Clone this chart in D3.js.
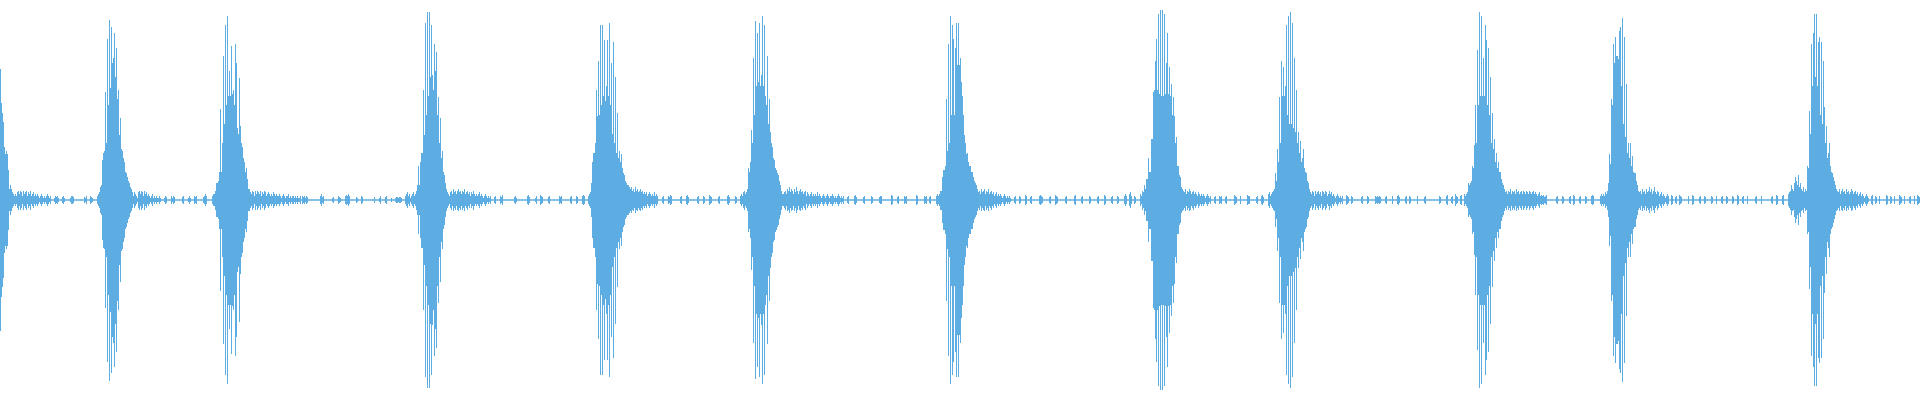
<!DOCTYPE html>
<html>
<head>
<meta charset="utf-8">
<script src="https://cdn.jsdelivr.net/npm/d3@7"></script>
<style>
  html, body { margin: 0; padding: 0; background: #fff; }
  svg { display: block; }
</style>
</head>
<body>
<svg width="1920" height="400"></svg>
<script>
// waveform: one value per time column, amplitude 0..1 (symmetric about 0)
var burstStart = [0, 97, 212, 405, 588, 740, 936, 1140, 1268, 1464, 1600, 1788];

var burstAmp = [
  [.69,.51,.46,.41,.28,.24,.26,.24,.16,.06,.08,.06,.04,.03,
   .02,.03,.02,.04,.05,.03,.05,.04,.02,.05,.03,.04,.05,.02,.04,.03,.05,.02,.03,.04,.02,.03,.02,.03,.02,.01,.02,.03,.02,.01,.02,.01,.02,.03,.02,.01,.02],
  [.02,.03,.04,.07,.08,.21,.25,.26,.57,.30,.85,.50,.95,.59,.91,.72,.75,.88,.65,.80,.53,.58,.34,.43,.27,.26,.22,.20,.15,.14,.12,.10,.09,.07,.06,.04,
   .02,.04,.03,.02,.01,.04,.05,.03,.05,.04,.02,.05,.03,.04,.02,.03,.02,.01,.02,.03,.01,.02,.01,.02,.01,.01,.02,.01],
  [.02,.03,.03,.05,.09,.09,.10,.15,.48,.15,.30,.76,.40,.92,.50,.97,.55,.68,.55,.81,.56,.58,.50,.82,.72,.38,.35,.64,.39,.30,.28,.22,.20,.15,.17,.11,.06,.06,.04,
   .03,.05,.04,.02,.05,.03,.05,.04,.03,.05,.02,.04,.03,.05,.04,.02,.03,.04,.03,.02,.03,.02,.04,.03,.02,.03,.02,.02,.03,.02,.01,.02,.03,.02,.01,.02,.02,.03,.01,.02,.01,.02,.02,.01,.02,.01,.02,.01,.01,.02],
  [.02,.03,.04,.02,.03,.01,.02,.03,.04,.02,.03,.05,.08,.18,.08,.20,.25,.25,.58,.34,.93,.45,.99,.55,.99,.65,.92,.66,.58,.82,.68,.78,.45,.54,.30,.43,.22,.26,.15,.13,.09,.06,.04,
   .03,.02,.04,.05,.03,.06,.04,.05,.03,.05,.06,.04,.05,.03,.05,.04,.06,.03,.04,.05,.03,.04,.02,.04,.03,.05,.03,.02,.03,.02,.03,.04,.02,.03,.02,.01,.02,.03,.02,.01,.02,.01,.02],
  [.02,.03,.04,.09,.20,.25,.25,.30,.58,.44,.73,.45,.92,.50,.92,.55,.84,.52,.60,.84,.55,.93,.50,.72,.35,.83,.30,.65,.25,.46,.22,.26,.20,.24,.17,.14,.13,.10,.09,.08,.08,.07,.06,.07,.05,.06,.04,.07,.05,.06,.04,.05,.06,.04,.05,.03,.04,.03,.04,.02,.03,.04,.03,.02,.03,.02,.04,.02,.03,.02],
  [.02,.03,.02,.04,.05,.03,.04,.06,.17,.15,.20,.37,.30,.75,.45,.94,.60,.88,.62,.93,.60,.66,.97,.60,.92,.55,.50,.76,.40,.53,.36,.30,.28,.22,.21,.17,.16,.14,.13,.10,.08,.05,.03,
   .03,.04,.05,.03,.06,.05,.07,.04,.06,.05,.03,.06,.04,.07,.05,.03,.05,.06,.04,.05,.03,.04,.05,.02,.04,.03,.02,.03,.04,.02,.03,.02,.03,.02,.04,.02,.03,.02,.01,.02,.03,.02,.01,.02,.03,.02,.01,.02,.02,.03,.02,.01,.02,.01,.02,.03,.02,.01,.02,.01,.02],
  [.02,.03,.02,.03,.05,.05,.12,.16,.16,.18,.53,.26,.82,.30,.97,.45,.92,.85,.45,.80,.93,.71,.93,.71,.75,.62,.55,.45,.34,.30,.24,.25,.20,.18,.18,.15,.15,.12,.10,.09,.08,.06,
   .04,.05,.03,.06,.04,.05,.06,.03,.05,.04,.06,.03,.04,.05,.03,.04,.02,.03,.04,.02,.03,.02,.03,.02,.01,.02,.03,.02,.01,.02,.01,.02,.01],
  [.03,.02,.05,.04,.08,.06,.11,.11,.22,.15,.15,.32,.32,.57,.58,.73,.85,.58,.98,.56,1.0,.55,1.0,.55,.98,.56,.72,.88,.56,.70,.55,.61,.45,.54,.44,.30,.33,.18,.18,.13,.12,.07,.06,
   .05,.04,.06,.03,.05,.04,.06,.05,.03,.04,.05,.03,.04,.03,.02,.04,.03,.02,.03,.02,.03,.02,.01,.02,.03,.02,.01,.02],
  [.03,.04,.02,.03,.04,.05,.06,.14,.10,.27,.20,.54,.30,.73,.55,.70,.55,.60,.92,.45,.97,.40,.99,.40,.93,.38,.75,.36,.58,.30,.36,.25,.31,.20,.22,.27,.17,.15,.14,.10,.09,.06,
   .04,.03,.05,.04,.02,.05,.03,.04,.05,.03,.04,.02,.05,.04,.03,.05,.04,.02,.03,.05,.03,.04,.02,.03,.02,.01,.02,.03,.02,.01,.02,.01,.02],
  [.03,.02,.03,.04,.09,.08,.09,.10,.18,.17,.29,.50,.30,.79,.50,.99,.55,.97,.55,.75,.55,.92,.84,.50,.80,.45,.65,.30,.46,.27,.32,.20,.25,.17,.20,.15,.15,.11,.09,.08,.06,
   .04,.05,.03,.05,.04,.06,.03,.05,.04,.05,.03,.06,.04,.05,.03,.04,.05,.03,.05,.04,.03,.05,.04,.03,.05,.04,.03,.04,.05,.03,.04,.03,.02,.03,.04,.02],
  [.02,.03,.02,.03,.02,.04,.03,.05,.09,.24,.19,.53,.50,.82,.72,.86,.76,.76,.74,.89,.91,.60,.96,.40,.86,.33,.61,.25,.30,.22,.30,.18,.23,.15,.14,.14,.10,.08,.05,
   .04,.05,.03,.06,.04,.05,.03,.06,.04,.05,.07,.04,.06,.03,.05,.07,.04,.03,.05,.04,.02,.03,.04,.02,.03,.02,.01,.02,.03,.02],
  [.03,.04,.05,.08,.06,.05,.09,.12,.10,.08,.13,.07,.09,.06,.05,.07,.04,.06,.05,.18,.17,.47,.35,.82,.60,.88,.98,.65,.98,.60,.83,.86,.45,.83,.40,.73,.49,.30,.39,.22,.25,.30,.18,.15,.14,.12,.10,.08,.06,
   .05,.04,.06,.03,.05,.06,.04,.05,.03,.06,.04,.05,.03,.04,.06,.05,.03,.04,.05,.03,.04,.02,.03,.04,.02,.03,.02,.01,.02,.03,.02,.01]
];

// little clusters of noise on the quiet floor between bursts
var floorStart = [54,62,70,84,90,
  164,171,182,188,194,203,
  302,320,332,338,345,356,361,374,379,385,391,395,
  494,500,514,527,535,540,548,559,570,576,582,
  662,668,680,686,697,703,709,718,727,735,
  847,854,863,871,879,891,897,904,916,924,929,
  1014,1019,1025,1030,1039,1049,1055,1065,1074,1081,1089,1097,1104,1111,1117,1124,1129,1134,
  1214,1219,1225,1234,1240,1247,1256,1261,
  1346,1351,1361,1367,1375,1385,1392,1397,1405,1409,1417,1424,1439,1446,1451,1455,1460,
  1541,1556,1562,1569,1573,1579,1585,1591,
  1671,1675,1679,1688,1692,1699,1704,1711,1716,1721,1726,1732,1737,1742,1747,1755,1761,1771,1776,1782,
  1871,1875,1879,1886,1890,1894,1899,1904,1909,1914,1917];
var floorAmp = [
  [.01,.02,.015,.02,.01],[.015,.02,.01],[.01,.02,.02,.015],[.015,.01,.02],[.02,.015,.01],
  [.01,.02,.015],[.02,.01,.02,.015],[.015,.02],[.01,.02,.01],[.02,.015,.02],[.015,.02,.03,.02],
  [.02,.015,.02,.01,.02,.015],[.02,.03,.015,.02],[.01,.015],[.02,.015,.01],[.02,.025,.02,.03,.02],[.015,.01],[.02,.015],[.015],[.01,.02],[.015,.02],[.01],[.01,.015,.015,.01,.015,.015,.01],
  [.015,.02],[.02,.015,.025],[.015,.02,.01],[.02,.025,.015],[.01,.02],[.025,.02,.015],[.015,.02],[.02,.015,.02],[.015,.02],[.02,.015],[.02,.025,.02],
  [.015,.02],[.02,.015,.025,.02],[.015,.02],[.02,.025,.015],[.015,.02],[.02,.015],[.025,.02,.015],[.015,.02],[.02,.025,.015],[.02,.015],
  [.015,.02],[.02,.025,.015],[.015,.02],[.02,.015],[.015,.02,.02],[.025,.02],[.015,.02],[.02,.015,.02],[.025,.02],[.02,.015,.02],[.015,.02],
  [.015,.02],[.02,.015],[.025,.02],[.015,.02],[.02,.025,.02,.015],[.015,.02],[.025,.02,.015],[.015,.02],[.02,.025],[.015,.02],[.02,.015],[.015,.02],[.025,.02],[.015,.02],[.02,.015],[.02,.03,.02],[.03,.04,.02],[.02,.015],
  [.015,.02],[.02,.015,.02],[.015,.02],[.025,.02,.015],[.02],[.025,.02,.02],[.015,.02],[.02,.025,.015],
  [.025,.02,.015],[.02,.015],[.015,.02],[.02,.015],[.02,.015,.02,.015,.02,.015],[.015,.02],[.02],[.02,.025,.015],[.015,.02],[.02,.015],[.02],[.015,.02],[.02,.015],[.02,.025],[.015,.02],[.03,.02,.015],[.02,.025],
  [.025,.02,.025,.015,.02,.025],[.015,.02],[.02,.015],[.015,.02],[.025,.02],[.015,.02],[.02,.015],[.02,.025,.02],
  [.025,.02],[.015,.02],[.025,.02,.015],[.02],[.025,.02],[.015,.02],[.02,.015],[.02,.015],[.02],[.015,.02],[.02,.015],[.02,.015],[.025,.02],[.015,.02],[.02],[.015,.02],[.02],[.015,.02],[.025,.02],[.02,.025],
  [.02,.025],[.02,.015],[.02],[.025,.02],[.02,.015],[.02],[.025,.02,.015],[.02],[.015,.02],[.02],[.025,.02,.015]
];

var svg = d3.select("svg"),
    width = +svg.attr("width"),
    height = +svg.attr("height");

var x = d3.scaleLinear().domain([0, 1920]).range([0, width]);
var y = d3.scaleLinear().domain([-1, 1]).range([390, 10]);

var cols = [];
function addRun(start, amps) {
  amps.forEach(function(a, j) { cols.push({ t: start + j, a: a }); });
}
burstStart.forEach(function(s, i) { addRun(s, burstAmp[i]); });
floorStart.forEach(function(s, i) { addRun(s, floorAmp[i]); });

var colour = "#5dade2";

// centre line
svg.append("line")
  .attr("x1", x(0)).attr("x2", x(1920))
  .attr("y1", y(0)).attr("y2", y(0))
  .attr("stroke", colour)
  .attr("stroke-width", 1.4);

svg.append("g")
  .attr("shape-rendering", "crispEdges")
  .selectAll("rect")
  .data(cols)
  .enter().append("rect")
  .attr("x", function(d) { return x(d.t); })
  .attr("width", function(d) { return Math.max(1, x(d.t + 1) - x(d.t)); })
  .attr("y", function(d) { return y(d.a); })
  .attr("height", function(d) { return Math.max(1, y(-d.a) - y(d.a)); })
  .attr("fill", colour);
</script>
</body>
</html>
